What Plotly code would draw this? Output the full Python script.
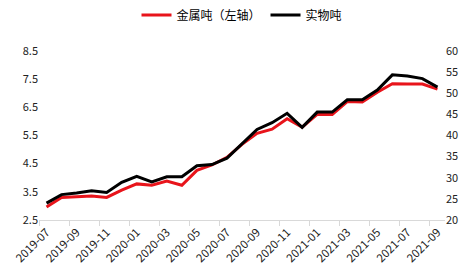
import plotly.graph_objects as go

months = ["2019-07","2019-08","2019-09","2019-10","2019-11","2019-12",
          "2020-01","2020-02","2020-03","2020-04","2020-05","2020-06",
          "2020-07","2020-08","2020-09","2020-10","2020-11","2020-12",
          "2021-01","2021-02","2021-03","2021-04","2021-05","2021-06",
          "2021-07","2021-08","2021-09"]
metal_ton = [2.96, 3.30, 3.32, 3.35, 3.30, 3.56, 3.78, 3.73, 3.88, 3.73,
             4.26, 4.45, 4.72, 5.18, 5.57, 5.72, 6.09, 5.79, 6.24, 6.24,
             6.70, 6.68, 7.03, 7.33, 7.32, 7.32, 7.14]
physical_ton = [24.0, 26.0, 26.4, 26.9, 26.5, 28.9, 30.3, 29.0, 30.2, 30.2,
                32.8, 33.1, 34.6, 38.1, 41.4, 43.0, 45.2, 41.9, 45.5, 45.5,
                48.4, 48.4, 50.7, 54.3, 54.0, 53.4, 51.4]
left_ticks = [2.5, 3.5, 4.5, 5.5, 6.5, 7.5, 8.5]
right_ticks = [20, 25, 30, 35, 40, 45, 50, 55, 60]

font_family = "Noto Sans CJK SC, Noto Sans, sans-serif"

fig = go.Figure()
fig.add_trace(go.Scatter(x=months, y=metal_ton, name="金属吨（左轴）", mode="lines",
                         line=dict(color="#e8141b", width=3)))
fig.add_trace(go.Scatter(x=months, y=physical_ton, name="实物吨", mode="lines",
                         line=dict(color="#000000", width=3), yaxis="y2"))

fig.update_layout(
    width=471, height=277,
    margin=dict(l=32, r=26, t=36, b=55),
    paper_bgcolor="white", plot_bgcolor="white",
    font=dict(family=font_family, size=11, color="#222"),
    showlegend=True,
    legend=dict(orientation="h", x=0.5, xanchor="center", y=0.998, yanchor="top",
                yref="container", font=dict(size=12, color="#000"), itemwidth=30,
                bgcolor="rgba(0,0,0,0)"),
    xaxis=dict(type="category", range=[-0.5, 26.5], tickmode="linear", tick0=0, dtick=2,
               tickangle=-45, tickson="boundaries", ticks="outside", ticklen=5,
               tickcolor="#d9d9d9", showline=True, linecolor="#d9d9d9", linewidth=1,
               showgrid=False, zeroline=False, tickfont=dict(size=11.5, color="#222")),
    yaxis=dict(range=[2.5, 8.5], tickvals=left_ticks, ticktext=[f"{v}" for v in left_ticks],
               showgrid=False, zeroline=False, showline=False, ticks="",
               tickfont=dict(size=11, color="#222")),
    yaxis2=dict(range=[20, 60], tickvals=right_ticks, overlaying="y", side="right",
                showgrid=False, zeroline=False, showline=False, ticks="",
                tickfont=dict(size=11, color="#222")),
)

fig.write_html("out.html")
